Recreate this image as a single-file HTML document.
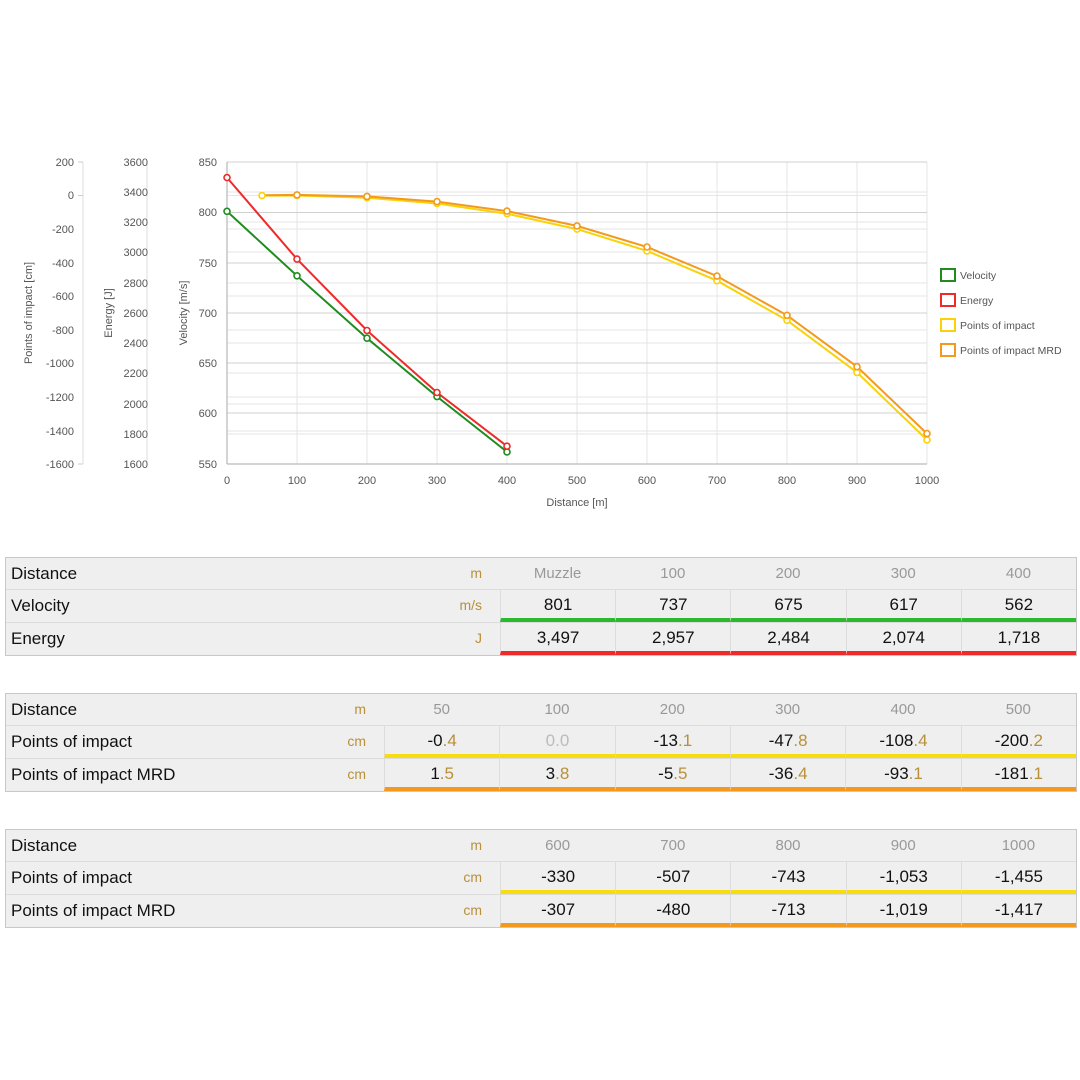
<!DOCTYPE html>
<html><head><meta charset="utf-8"><style>
body{margin:0;width:1080px;height:1080px;background:#fff;position:relative;font-family:"Liberation Sans",sans-serif;overflow:hidden}
.tbl{position:absolute;left:5px;width:1070px;border:1px solid #c8c8c8;background:#efefef}
.row{display:flex;height:32px;border-top:1px solid #dcdcdc}
.row:first-child{border-top:none;height:31px}
.lab{position:relative;font-size:17px;color:#111;line-height:31px;padding-left:5px;box-sizing:border-box}
.lab .u{position:absolute;right:18px;top:0;font-size:14px;color:#b8903a}
.c{flex:1;text-align:center;font-size:17px;color:#111;line-height:29px;border-left:1px solid #dcdcdc;box-sizing:border-box}
.h .c{border-left:none;color:#999;font-size:15px;line-height:31px}
.g{border-bottom:4px solid #2db92d}.r{border-bottom:4px solid #ee2a2a}.y{border-bottom:4px solid #f8dc10}.o{border-bottom:4px solid #f39a1e}
.d{color:#b8903a}
</style></head><body>
<svg width="1080" height="540" style="position:absolute;left:0;top:0" font-family="Liberation Sans, sans-serif">
<g stroke="#e6e6e6" stroke-width="1">
<line x1="227" x2="927" y1="192" y2="192"/><line x1="227" x2="927" y1="222" y2="222"/><line x1="227" x2="927" y1="252" y2="252"/><line x1="227" x2="927" y1="283" y2="283"/><line x1="227" x2="927" y1="343" y2="343"/><line x1="227" x2="927" y1="373" y2="373"/><line x1="227" x2="927" y1="404" y2="404"/><line x1="227" x2="927" y1="434" y2="434"/>
<line x1="227" x2="927" y1="195.5" y2="195.5"/><line x1="227" x2="927" y1="229" y2="229"/><line x1="227" x2="927" y1="296" y2="296"/><line x1="227" x2="927" y1="330" y2="330"/><line x1="227" x2="927" y1="397" y2="397"/><line x1="227" x2="927" y1="431" y2="431"/>
<line y1="162" y2="464" x1="297" x2="297"/><line y1="162" y2="464" x1="367" x2="367"/><line y1="162" y2="464" x1="437" x2="437"/><line y1="162" y2="464" x1="507" x2="507"/><line y1="162" y2="464" x1="577" x2="577"/><line y1="162" y2="464" x1="647" x2="647"/><line y1="162" y2="464" x1="717" x2="717"/><line y1="162" y2="464" x1="787" x2="787"/><line y1="162" y2="464" x1="857" x2="857"/><line y1="162" y2="464" x1="927" x2="927"/>
</g>
<g stroke="#d0d0d0" stroke-width="1">
<line x1="227" x2="927" y1="162" y2="162"/><line x1="227" x2="927" y1="212.5" y2="212.5"/><line x1="227" x2="927" y1="263" y2="263"/><line x1="227" x2="927" y1="313" y2="313"/><line x1="227" x2="927" y1="363" y2="363"/><line x1="227" x2="927" y1="413" y2="413"/>
</g>
<g stroke="#aaa"><line x1="227" x2="927" y1="464" y2="464"/><line x1="227" x2="227" y1="162" y2="464"/></g>
<g stroke="#ddd"><line x1="83" x2="83" y1="162" y2="464"/><line x1="147" x2="147" y1="162" y2="464"/></g>
<g font-size="11" fill="#555" text-anchor="end">
<text x="74" y="166">200</text><text x="74" y="199">0</text><text x="74" y="233">-200</text><text x="74" y="267">-400</text><text x="74" y="300">-600</text><text x="74" y="334">-800</text><text x="74" y="367">-1000</text><text x="74" y="401">-1200</text><text x="74" y="435">-1400</text><text x="74" y="468">-1600</text>
<text x="148" y="166">3600</text><text x="148" y="196">3400</text><text x="148" y="226">3200</text><text x="148" y="256">3000</text><text x="148" y="287">2800</text><text x="148" y="317">2600</text><text x="148" y="347">2400</text><text x="148" y="377">2200</text><text x="148" y="408">2000</text><text x="148" y="438">1800</text><text x="148" y="468">1600</text>
<text x="217" y="166">850</text><text x="217" y="216">800</text><text x="217" y="267">750</text><text x="217" y="317">700</text><text x="217" y="367">650</text><text x="217" y="417">600</text><text x="217" y="468">550</text>
</g>
<g stroke="#ccc"><line x1="78" x2="83" y1="162" y2="162"/><line x1="78" x2="83" y1="195.5" y2="195.5"/><line x1="78" x2="83" y1="464" y2="464"/></g>
<g font-size="11" fill="#555" text-anchor="middle">
<text x="227" y="484">0</text><text x="297" y="484">100</text><text x="367" y="484">200</text><text x="437" y="484">300</text><text x="507" y="484">400</text><text x="577" y="484">500</text><text x="647" y="484">600</text><text x="717" y="484">700</text><text x="787" y="484">800</text><text x="857" y="484">900</text><text x="927" y="484">1000</text>
<text x="577" y="506">Distance [m]</text>
<text transform="translate(32,313) rotate(-90)">Points of impact [cm]</text>
<text transform="translate(112,313) rotate(-90)">Energy [J]</text>
<text transform="translate(187,313) rotate(-90)">Velocity [m/s]</text>
</g>
<g fill="none" stroke-width="2">
<polyline stroke="#f9d20a" points="262,195.6 297,195.5 367,197.7 437,203.5 507,213.7 577,229.1 647,250.9 717,280.7 787,320.3 857,372.4 927,439.9"/>
<polyline stroke="#f39a1e" points="262,195.2 297,194.9 367,196.4 437,201.6 507,211.1 577,225.9 647,247 717,276.1 787,315.3 857,366.7 927,433.6"/>
<polyline stroke="#1e8c1e" points="227,211.3 297,275.8 367,338.2 437,396.6 507,451.9"/>
<polyline stroke="#ee2a2a" points="227,177.6 297,259.1 367,330.5 437,392.5 507,446.2"/>
</g>
<g fill="#fff" stroke-width="1.6">
<g stroke="#f9d20a"><circle cx="262" cy="195.6" r="3"/><circle cx="297" cy="195.5" r="3"/><circle cx="367" cy="197.7" r="3"/><circle cx="437" cy="203.5" r="3"/><circle cx="507" cy="213.7" r="3"/><circle cx="577" cy="229.1" r="3"/><circle cx="647" cy="250.9" r="3"/><circle cx="717" cy="280.7" r="3"/><circle cx="787" cy="320.3" r="3"/><circle cx="857" cy="372.4" r="3"/><circle cx="927" cy="439.9" r="3"/></g>
<g stroke="#f39a1e"><circle cx="297" cy="194.9" r="3"/><circle cx="367" cy="196.4" r="3"/><circle cx="437" cy="201.6" r="3"/><circle cx="507" cy="211.1" r="3"/><circle cx="577" cy="225.9" r="3"/><circle cx="647" cy="247" r="3"/><circle cx="717" cy="276.1" r="3"/><circle cx="787" cy="315.3" r="3"/><circle cx="857" cy="366.7" r="3"/><circle cx="927" cy="433.6" r="3"/></g>
<g stroke="#1e8c1e"><circle cx="227" cy="211.3" r="3"/><circle cx="297" cy="275.8" r="3"/><circle cx="367" cy="338.2" r="3"/><circle cx="437" cy="396.6" r="3"/><circle cx="507" cy="451.9" r="3"/></g>
<g stroke="#ee2a2a"><circle cx="227" cy="177.6" r="3"/><circle cx="297" cy="259.1" r="3"/><circle cx="367" cy="330.5" r="3"/><circle cx="437" cy="392.5" r="3"/><circle cx="507" cy="446.2" r="3"/></g>
</g>
<g fill="none" stroke-width="2">
<rect x="941" y="269" width="14" height="12" stroke="#1e8c1e"/>
<rect x="941" y="294" width="14" height="12" stroke="#ee2a2a"/>
<rect x="941" y="319" width="14" height="12" stroke="#f9d20a"/>
<rect x="941" y="344" width="14" height="12" stroke="#f39a1e"/>
</g>
<g font-size="10.5" fill="#555">
<text x="960" y="279">Velocity</text><text x="960" y="304">Energy</text><text x="960" y="329">Points of impact</text><text x="960" y="354">Points of impact MRD</text>
</g>
</svg>

<div class="tbl" style="top:557px">
<div class="row h"><div class="lab" style="width:494px">Distance<span class="u">m</span></div><div class="c">Muzzle</div><div class="c">100</div><div class="c">200</div><div class="c">300</div><div class="c">400</div></div>
<div class="row"><div class="lab" style="width:494px">Velocity<span class="u">m/s</span></div><div class="c g">801</div><div class="c g">737</div><div class="c g">675</div><div class="c g">617</div><div class="c g">562</div></div>
<div class="row"><div class="lab" style="width:494px">Energy<span class="u">J</span></div><div class="c r">3,497</div><div class="c r">2,957</div><div class="c r">2,484</div><div class="c r">2,074</div><div class="c r">1,718</div></div>
</div>

<div class="tbl" style="top:693px">
<div class="row h"><div class="lab" style="width:378px">Distance<span class="u">m</span></div><div class="c">50</div><div class="c">100</div><div class="c">200</div><div class="c">300</div><div class="c">400</div><div class="c">500</div></div>
<div class="row"><div class="lab" style="width:378px">Points of impact<span class="u">cm</span></div><div class="c y">-0<span class="d">.4</span></div><div class="c y" style="color:#bbb">0.0</div><div class="c y">-13<span class="d">.1</span></div><div class="c y">-47<span class="d">.8</span></div><div class="c y">-108<span class="d">.4</span></div><div class="c y">-200<span class="d">.2</span></div></div>
<div class="row"><div class="lab" style="width:378px">Points of impact MRD<span class="u">cm</span></div><div class="c o">1<span class="d">.5</span></div><div class="c o">3<span class="d">.8</span></div><div class="c o">-5<span class="d">.5</span></div><div class="c o">-36<span class="d">.4</span></div><div class="c o">-93<span class="d">.1</span></div><div class="c o">-181<span class="d">.1</span></div></div>
</div>

<div class="tbl" style="top:829px">
<div class="row h"><div class="lab" style="width:494px">Distance<span class="u">m</span></div><div class="c">600</div><div class="c">700</div><div class="c">800</div><div class="c">900</div><div class="c">1000</div></div>
<div class="row"><div class="lab" style="width:494px">Points of impact<span class="u">cm</span></div><div class="c y">-330</div><div class="c y">-507</div><div class="c y">-743</div><div class="c y">-1,053</div><div class="c y">-1,455</div></div>
<div class="row"><div class="lab" style="width:494px">Points of impact MRD<span class="u">cm</span></div><div class="c o">-307</div><div class="c o">-480</div><div class="c o">-713</div><div class="c o">-1,019</div><div class="c o">-1,417</div></div>
</div>
</body></html>
